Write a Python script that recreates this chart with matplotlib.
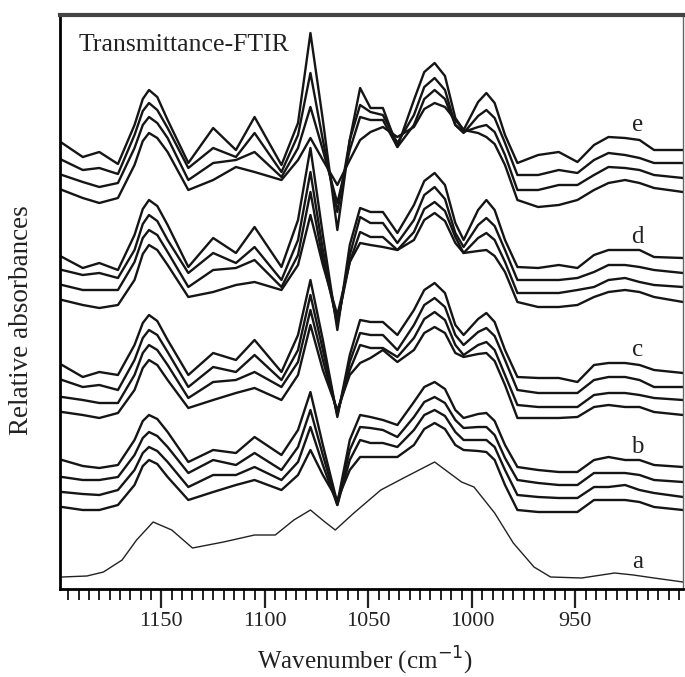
import numpy as np
import matplotlib
matplotlib.use("Agg")
import matplotlib.pyplot as plt

plt.rcParams['font.family'] = ['Liberation Serif', 'DejaVu Serif']

# wavenumbers (cm-1) shared by spectra groups b-e
wn = [1198, 1188, 1180, 1171, 1163, 1159, 1156, 1152, 1147, 1137, 1125, 1114, 1105, 1092, 1084,
      1078, 1072, 1065, 1059, 1054, 1049, 1043, 1036, 1028, 1023, 1018, 1013, 1008, 1004, 997,
      993, 989, 984, 978, 968, 958, 949, 941, 934, 926, 919, 912, 898]

# relative absorbance (stacked as plotted), four spectra per group
e_spectra = [
    [4.46, 4.32, 4.37, 4.25, 4.64, 4.90, 4.99, 4.92, 4.69, 4.26, 4.61, 4.39, 4.72, 4.24, 4.66,
     5.56, 4.69, 3.59, 4.49, 5.01, 4.81, 4.81, 4.42, 4.89, 5.17, 5.26, 5.13, 4.71, 4.59, 4.87,
     4.96, 4.86, 4.54, 4.26, 4.34, 4.37, 4.27, 4.44, 4.52, 4.51, 4.49, 4.39, 4.39],
    [4.29, 4.19, 4.21, 4.15, 4.54, 4.78, 4.86, 4.79, 4.61, 4.21, 4.41, 4.32, 4.56, 4.17, 4.54,
     5.16, 4.49, 3.77, 4.49, 4.84, 4.77, 4.74, 4.46, 4.74, 5.02, 5.11, 4.99, 4.64, 4.56, 4.73,
     4.79, 4.71, 4.46, 4.14, 4.14, 4.19, 4.16, 4.29, 4.36, 4.34, 4.31, 4.26, 4.26],
    [4.14, 4.07, 4.02, 4.06, 4.41, 4.64, 4.72, 4.66, 4.51, 4.09, 4.26, 4.29, 4.37, 4.12, 4.41,
     4.82, 4.39, 3.86, 4.39, 4.72, 4.69, 4.69, 4.42, 4.64, 4.90, 4.99, 4.90, 4.64, 4.57, 4.62,
     4.64, 4.57, 4.34, 3.99, 3.99, 4.04, 4.04, 4.14, 4.22, 4.21, 4.19, 4.14, 4.11],
    [3.99, 3.91, 3.86, 3.91, 4.24, 4.48, 4.56, 4.51, 4.37, 3.99, 4.09, 4.22, 4.17, 4.09, 4.29,
     4.51, 4.29, 4.04, 4.29, 4.49, 4.57, 4.62, 4.52, 4.62, 4.80, 4.86, 4.82, 4.69, 4.59, 4.56,
     4.52, 4.45, 4.24, 3.89, 3.82, 3.84, 3.89, 3.99, 4.06, 4.09, 4.06, 4.01, 3.97],
]
d_spectra = [
    [3.32, 3.21, 3.26, 3.19, 3.54, 3.80, 3.89, 3.83, 3.64, 3.22, 3.51, 3.36, 3.62, 3.22, 3.69,
     4.41, 3.54, 2.59, 3.44, 3.81, 3.77, 3.77, 3.56, 3.84, 4.08, 4.16, 4.04, 3.66, 3.49, 3.79,
     3.89, 3.79, 3.49, 3.22, 3.21, 3.24, 3.21, 3.34, 3.39, 3.39, 3.39, 3.32, 3.31],
    [3.19, 3.14, 3.16, 3.11, 3.39, 3.65, 3.74, 3.68, 3.49, 3.16, 3.36, 3.26, 3.42, 3.09, 3.49,
     4.17, 3.39, 2.64, 3.34, 3.72, 3.66, 3.66, 3.46, 3.69, 3.94, 4.02, 3.90, 3.56, 3.42, 3.64,
     3.71, 3.63, 3.39, 3.09, 3.09, 3.09, 3.11, 3.17, 3.24, 3.24, 3.22, 3.19, 3.16],
    [3.04, 2.99, 2.99, 2.99, 3.27, 3.51, 3.59, 3.54, 3.37, 3.02, 3.19, 3.21, 3.29, 3.02, 3.34,
     3.97, 3.29, 2.67, 3.27, 3.57, 3.52, 3.52, 3.39, 3.57, 3.80, 3.87, 3.78, 3.52, 3.36, 3.51,
     3.56, 3.49, 3.27, 2.96, 2.96, 2.96, 2.99, 3.02, 3.09, 3.11, 3.07, 3.04, 3.02],
    [2.89, 2.84, 2.81, 2.84, 3.09, 3.35, 3.44, 3.39, 3.24, 2.92, 2.97, 3.04, 3.07, 2.99, 3.24,
     3.74, 3.24, 2.74, 3.27, 3.46, 3.44, 3.42, 3.39, 3.49, 3.69, 3.76, 3.68, 3.46, 3.36, 3.38,
     3.39, 3.33, 3.17, 2.87, 2.82, 2.82, 2.84, 2.92, 2.97, 2.99, 2.97, 2.92, 2.87],
]
c_spectra = [
    [2.24, 2.12, 2.17, 2.14, 2.44, 2.66, 2.74, 2.68, 2.49, 2.14, 2.36, 2.29, 2.49, 2.17, 2.54,
     3.09, 2.49, 1.72, 2.34, 2.69, 2.67, 2.67, 2.54, 2.79, 2.99, 3.06, 2.96, 2.64, 2.54, 2.70,
     2.76, 2.67, 2.39, 2.12, 2.11, 2.11, 2.07, 2.24, 2.26, 2.26, 2.24, 2.19, 2.16],
    [2.09, 2.02, 2.04, 1.99, 2.29, 2.51, 2.59, 2.54, 2.37, 2.02, 2.22, 2.17, 2.34, 2.09, 2.39,
     2.94, 2.39, 1.74, 2.27, 2.56, 2.54, 2.54, 2.39, 2.64, 2.84, 2.91, 2.82, 2.54, 2.44, 2.57,
     2.61, 2.53, 2.29, 1.99, 1.96, 1.96, 1.96, 2.09, 2.12, 2.12, 2.09, 2.02, 2.02],
    [1.92, 1.89, 1.86, 1.86, 2.14, 2.36, 2.44, 2.39, 2.24, 1.91, 2.07, 2.09, 2.17, 2.02, 2.27,
     2.79, 2.29, 1.76, 2.19, 2.44, 2.41, 2.41, 2.32, 2.51, 2.70, 2.77, 2.69, 2.44, 2.34, 2.44,
     2.47, 2.39, 2.14, 1.84, 1.82, 1.82, 1.82, 1.94, 1.96, 1.96, 1.94, 1.91, 1.89],
    [1.77, 1.74, 1.71, 1.76, 1.99, 2.21, 2.29, 2.24, 2.09, 1.81, 1.89, 1.96, 2.01, 1.89, 2.14,
     2.64, 2.19, 1.79, 2.14, 2.26, 2.31, 2.39, 2.27, 2.39, 2.56, 2.62, 2.56, 2.36, 2.32, 2.35,
     2.36, 2.28, 2.04, 1.71, 1.71, 1.71, 1.72, 1.82, 1.84, 1.82, 1.82, 1.77, 1.74],
]
b_spectra = [
    [1.29, 1.23, 1.21, 1.24, 1.49, 1.68, 1.74, 1.70, 1.57, 1.27, 1.39, 1.36, 1.52, 1.34, 1.59,
     1.97, 1.44, 0.86, 1.49, 1.74, 1.72, 1.69, 1.64, 1.87, 2.02, 2.07, 2.00, 1.79, 1.71, 1.75,
     1.76, 1.68, 1.44, 1.22, 1.19, 1.17, 1.17, 1.29, 1.32, 1.29, 1.29, 1.24, 1.22],
    [1.12, 1.09, 1.09, 1.12, 1.34, 1.51, 1.57, 1.53, 1.42, 1.16, 1.29, 1.24, 1.36, 1.19, 1.42,
     1.79, 1.34, 0.84, 1.39, 1.62, 1.61, 1.59, 1.52, 1.72, 1.87, 1.92, 1.86, 1.69, 1.61, 1.62,
     1.62, 1.54, 1.31, 1.09, 1.06, 1.04, 1.04, 1.16, 1.16, 1.16, 1.14, 1.09, 1.07],
    [0.97, 0.95, 0.94, 0.99, 1.19, 1.36, 1.42, 1.38, 1.27, 1.02, 1.14, 1.14, 1.22, 1.09, 1.27,
     1.62, 1.24, 0.84, 1.29, 1.49, 1.46, 1.46, 1.42, 1.59, 1.74, 1.79, 1.73, 1.57, 1.49, 1.49,
     1.49, 1.42, 1.19, 0.94, 0.92, 0.91, 0.91, 1.02, 1.02, 1.04, 0.99, 0.96, 0.92],
    [0.82, 0.79, 0.79, 0.84, 1.04, 1.23, 1.29, 1.25, 1.12, 0.89, 0.97, 1.04, 1.09, 0.99, 1.14,
     1.39, 1.14, 0.89, 1.19, 1.32, 1.32, 1.32, 1.32, 1.44, 1.60, 1.66, 1.60, 1.44, 1.39, 1.38,
     1.37, 1.29, 1.04, 0.79, 0.77, 0.77, 0.77, 0.89, 0.89, 0.89, 0.87, 0.82, 0.79],
]

# spectrum a has its own sampling
wn_a = [1198, 1186, 1178, 1169, 1162, 1154, 1145, 1135, 1120, 1105, 1095, 1086, 1078, 1071, 1066,
        1057, 1044, 1033, 1018, 1005, 999, 989, 980, 970, 962, 947, 931, 922, 912, 898]
a_spectrum = [0.12, 0.13, 0.17, 0.29, 0.49, 0.67, 0.59, 0.41, 0.47, 0.54, 0.54, 0.69, 0.79, 0.67, 0.59,
              0.76, 0.99, 1.11, 1.27, 1.07, 1.02, 0.76, 0.46, 0.22, 0.12, 0.11, 0.16, 0.14, 0.11, 0.07]

group_names = ['e', 'd', 'c', 'b', 'a']
label_y = [4.64, 3.52, 2.39, 1.42, 0.27]
label_wn = 920

fig = plt.figure(figsize=(6.85, 6.77), dpi=100)
ax = fig.add_axes([60 / 685, 88 / 677, 623 / 685, 574 / 677])

for group in [e_spectra, d_spectra, c_spectra, b_spectra]:
    for spec in group:
        ax.plot(wn, spec, color='#151515', lw=1.7, solid_joinstyle='round')
ax.plot(wn_a, a_spectrum, color='#222222', lw=1.0)

for name, y in zip(group_names, label_y):
    ax.text(label_wn, y, name, fontsize=18, ha='center', va='center', color='#222222')

ax.text(0.029, 0.948, 'Transmittance-FTIR', transform=ax.transAxes, fontsize=18.5,
        ha='left', va='center', color='#222222')

ax.set_xlim(1199, 898)
ax.set_ylim(0, 5.74)
ax.set_xticks([1150, 1100, 1050, 1000, 950])
ax.set_xticks(np.arange(1195, 899, -5), minor=True)
ax.set_yticks([])
ax.tick_params(axis='x', which='major', direction='out', length=13.5, width=1.6,
               labelsize=16, pad=3, colors='#222222')
ax.tick_params(axis='x', which='minor', direction='out', length=8, width=1.4, colors='#222222')

ax.set_xlabel('Wavenumber (cm$^{-1}$)', fontsize=18, color='#222222')
ax.xaxis.set_label_coords(0.49, -0.097)
ax.set_ylabel('Relative absorbances', fontsize=19.5, color='#222222')
ax.yaxis.set_label_coords(-0.042, 0.469)

ax.spines['top'].set_linewidth(3)
ax.spines['top'].set_color('#444444')
ax.spines['left'].set_linewidth(2)
ax.spines['bottom'].set_linewidth(2)
ax.spines['right'].set_linewidth(1)
ax.spines['right'].set_color('#666666')

fig.savefig('out.png', dpi=100)
